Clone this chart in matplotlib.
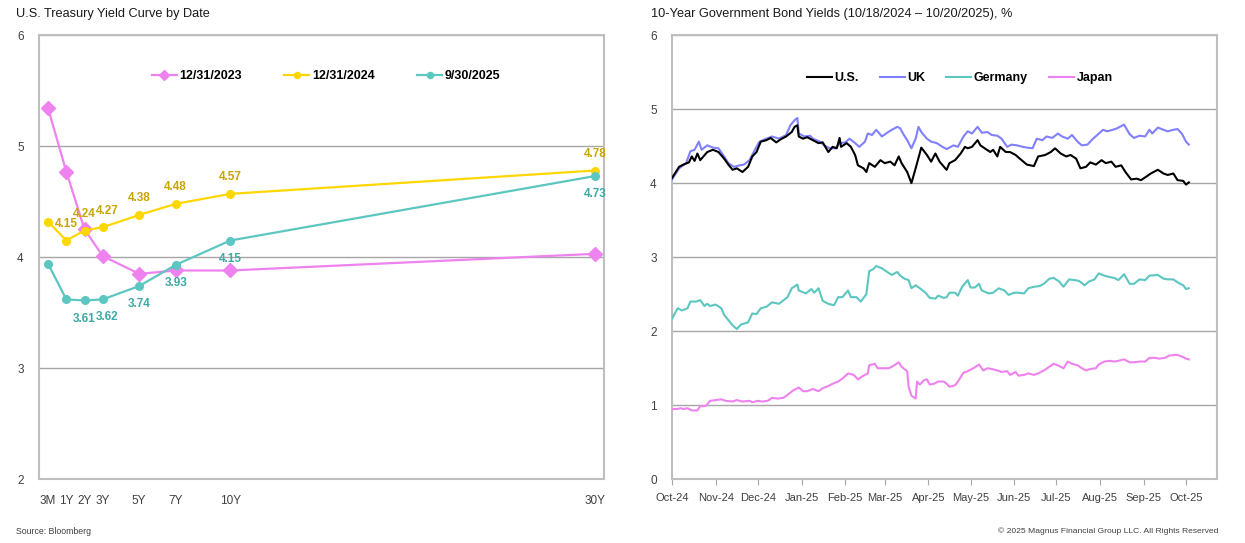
import numpy as np
import pandas as pd
import matplotlib
matplotlib.use('Agg')
import matplotlib.pyplot as plt

plt.rcParams['font.family'] = ['Liberation Sans Narrow', 'Liberation Sans', 'DejaVu Sans']

# ---- left chart: treasury curves
tenors = ['3M', '1Y', '2Y', '3Y', '5Y', '7Y', '10Y', '30Y']
tenor_years = [0, 1, 2, 3, 5, 7, 10, 30]
curve_2023 = [5.34, 4.77, 4.25, 4.01, 3.85, 3.88, 3.88, 4.03]
curve_2024 = [4.32, 4.15, 4.24, 4.27, 4.38, 4.48, 4.57, 4.78]
curve_2025 = [3.94, 3.62, 3.61, 3.62, 3.74, 3.93, 4.15, 4.73]

# ---- right chart: 10y yields, days since 10/18/2024
start = pd.Timestamp('2024-10-18')

us_days = [0, 5, 8, 12, 14, 16, 18, 20, 25, 29, 33, 37, 40, 43, 46, 50, 54, 57, 60, 63, 67, 70, 74, 77, 81, 85, 87, 89, 90, 93, 96, 100, 104, 107, 111, 114, 117, 119, 120, 124, 127, 130, 132, 136, 138, 140, 144, 148, 151, 155, 158, 161, 163, 167, 170, 173, 177, 181, 184, 187, 190, 194,
           195, 197, 201, 205, 208, 210, 213, 217, 219, 222, 226, 228, 231, 233, 237, 240, 244, 247, 252, 257, 260, 265, 269, 272, 276, 280, 283, 287, 290, 294, 297, 301, 305, 308, 312, 315, 319, 322, 326, 330, 333, 337, 340, 345, 349, 352, 356, 359, 363, 365, 367]
us_vals = [4.07, 4.22, 4.25, 4.28, 4.36, 4.30, 4.40, 4.31, 4.42, 4.45, 4.42, 4.33, 4.25, 4.18, 4.20, 4.15, 4.22, 4.36, 4.42, 4.56, 4.58, 4.61, 4.55, 4.59, 4.63, 4.69, 4.76, 4.78, 4.63, 4.60, 4.62, 4.58, 4.54, 4.55, 4.42, 4.49, 4.47, 4.61, 4.49, 4.54, 4.49, 4.38, 4.24, 4.20, 4.15, 4.27, 4.22, 4.31, 4.27, 4.29, 4.24, 4.36, 4.27, 4.15, 4.00, 4.20, 4.48, 4.38, 4.29, 4.40, 4.29, 4.20,
           4.18, 4.27, 4.31, 4.40, 4.49, 4.47, 4.49, 4.58, 4.51, 4.47, 4.42, 4.45, 4.36, 4.49, 4.42, 4.42, 4.38, 4.33, 4.25, 4.23, 4.36, 4.38, 4.42, 4.47, 4.40, 4.36, 4.38, 4.33, 4.20, 4.22, 4.28, 4.25, 4.31, 4.27, 4.29, 4.22, 4.24, 4.15, 4.05, 4.06, 4.04, 4.09, 4.13, 4.18, 4.13, 4.11, 4.13, 4.04, 4.03, 3.98, 4.01]

uk_days = [0, 5, 10, 13, 16, 19, 21, 25, 29, 33, 37, 40, 44, 48, 51, 55, 58, 62, 67, 71, 76, 81, 84, 87, 89, 90, 94, 98, 100, 105, 108, 112, 116, 119, 123, 126, 130, 133, 137, 139, 142, 145, 149, 152, 156, 160, 162, 164, 167, 170, 173, 175, 177, 181, 184, 188, 192,
           195, 200, 203, 207, 210, 213, 217, 220, 224, 227, 231, 234, 238, 241, 245, 249, 252, 256, 259, 263, 266, 270, 274, 277, 281, 284, 288, 291, 295, 299, 302, 306, 309, 313, 316, 321, 325, 328, 332, 336, 339, 341, 345, 349, 352, 356, 359, 362, 365, 367]
uk_vals = [4.05, 4.20, 4.27, 4.43, 4.45, 4.56, 4.45, 4.51, 4.48, 4.47, 4.36, 4.27, 4.22, 4.24, 4.25, 4.31, 4.42, 4.56, 4.60, 4.63, 4.60, 4.65, 4.78, 4.85, 4.88, 4.67, 4.63, 4.64, 4.60, 4.56, 4.51, 4.47, 4.47, 4.54, 4.55, 4.60, 4.54, 4.49, 4.56, 4.67, 4.65, 4.72, 4.63, 4.67, 4.72, 4.76, 4.74, 4.67, 4.58, 4.47, 4.60, 4.76, 4.69, 4.60, 4.56, 4.54, 4.49,
           4.46, 4.51, 4.49, 4.63, 4.70, 4.67, 4.76, 4.68, 4.69, 4.65, 4.64, 4.60, 4.49, 4.52, 4.51, 4.49, 4.48, 4.47, 4.60, 4.58, 4.63, 4.61, 4.67, 4.63, 4.60, 4.65, 4.56, 4.51, 4.52, 4.60, 4.65, 4.72, 4.70, 4.72, 4.74, 4.79, 4.66, 4.61, 4.64, 4.63, 4.72, 4.67, 4.75, 4.72, 4.70, 4.72, 4.73, 4.67, 4.56, 4.52]

de_days = [0, 4, 7, 11, 13, 17, 20, 23, 25, 27, 31, 35, 37, 40, 43, 46, 49, 54, 57, 60, 63, 67, 71, 76, 80, 82, 85, 89, 90, 95, 99, 101, 104, 107, 111, 115, 118, 121, 125, 127, 131, 134, 138, 140, 143, 145, 149, 152, 156, 160, 162, 165, 168, 170, 173, 176, 180, 183, 187, 189, 193,
           195, 197, 201, 203, 206, 210, 212, 215, 218, 220, 225, 228, 232, 236, 239, 243, 246, 250, 253, 257, 261, 264, 268, 271, 275, 278, 282, 286, 289, 293, 296, 300, 303, 307, 311, 314, 317, 321, 325, 328, 332, 336, 339, 345, 349, 352, 356, 359, 363, 365, 367]
de_vals = [2.17, 2.31, 2.28, 2.31, 2.40, 2.40, 2.42, 2.34, 2.37, 2.34, 2.36, 2.31, 2.22, 2.15, 2.08, 2.03, 2.09, 2.12, 2.24, 2.23, 2.31, 2.33, 2.39, 2.37, 2.43, 2.46, 2.58, 2.63, 2.55, 2.51, 2.57, 2.52, 2.58, 2.41, 2.37, 2.35, 2.46, 2.46, 2.55, 2.46, 2.46, 2.40, 2.50, 2.81, 2.84, 2.88, 2.85, 2.81, 2.76, 2.80, 2.75, 2.71, 2.69, 2.58, 2.62, 2.58, 2.52, 2.45, 2.44, 2.48, 2.45,
           2.46, 2.52, 2.52, 2.48, 2.60, 2.69, 2.59, 2.59, 2.64, 2.55, 2.51, 2.52, 2.58, 2.55, 2.49, 2.52, 2.52, 2.51, 2.58, 2.60, 2.61, 2.64, 2.71, 2.72, 2.67, 2.60, 2.70, 2.69, 2.68, 2.62, 2.67, 2.70, 2.78, 2.75, 2.73, 2.72, 2.69, 2.77, 2.64, 2.64, 2.70, 2.69, 2.75, 2.76, 2.71, 2.70, 2.70, 2.66, 2.62, 2.57, 2.58]

jp_days = [0, 4, 6, 8, 11, 14, 18, 20, 24, 27, 31, 35, 38, 43, 46, 50, 55, 57, 61, 64, 68, 71, 75, 79, 82, 86, 90, 93, 96, 100, 104, 107, 111, 114, 118, 121, 125, 129, 132, 136, 139, 140, 144, 146, 150, 154, 157, 161, 163, 167, 168, 170, 173, 174, 176, 179, 181, 183, 186, 189, 193,
           195, 197, 201, 203, 207, 210, 214, 218, 221, 224, 227, 231, 234, 238, 240, 244, 246, 250, 253, 257, 260, 264, 268, 271, 275, 278, 281, 284, 288, 291, 294, 297, 301, 303, 307, 311, 314, 317, 321, 325, 328, 332, 336, 339, 343, 346, 350, 353, 357, 359, 363, 365, 367]
jp_vals = [0.95, 0.95, 0.96, 0.95, 0.96, 0.93, 0.93, 0.99, 0.99, 1.06, 1.07, 1.08, 1.06, 1.05, 1.07, 1.05, 1.06, 1.04, 1.06, 1.05, 1.06, 1.10, 1.09, 1.10, 1.14, 1.20, 1.24, 1.19, 1.19, 1.22, 1.19, 1.23, 1.26, 1.29, 1.32, 1.36, 1.43, 1.41, 1.35, 1.40, 1.43, 1.54, 1.56, 1.50, 1.50, 1.50, 1.53, 1.58, 1.52, 1.46, 1.25, 1.13, 1.09, 1.32, 1.28, 1.34, 1.35, 1.28, 1.29, 1.32, 1.32,
           1.29, 1.25, 1.27, 1.32, 1.44, 1.46, 1.50, 1.55, 1.47, 1.50, 1.49, 1.47, 1.45, 1.46, 1.41, 1.45, 1.40, 1.41, 1.43, 1.41, 1.43, 1.47, 1.52, 1.56, 1.53, 1.50, 1.59, 1.56, 1.54, 1.50, 1.47, 1.49, 1.50, 1.55, 1.59, 1.60, 1.59, 1.60, 1.62, 1.58, 1.58, 1.59, 1.59, 1.64, 1.64, 1.63, 1.64, 1.67, 1.68, 1.68, 1.65, 1.63, 1.62]

month_ticks = pd.date_range(start, periods=13, freq=pd.DateOffset(months=1))

PINK = '#EE82EE'
GOLD = '#FFD700'
GOLD_TXT = '#C9A500'
TEAL = '#5CC6C0'
TEAL_TXT = '#3DAAA5'
UKBLUE = '#8080FF'
GRID = '#A6A6A6'
SPINE = '#BFBFBF'
TXT = '#404040'

fig = plt.figure(figsize=(12.45, 5.43), dpi=100)
ax1 = fig.add_axes([0.0313, 0.1173, 0.4538, 0.8182])
ax2 = fig.add_axes([0.5398, 0.1173, 0.4377, 0.8182])

# ---------------- left
ax1.plot(tenor_years, curve_2023, color=PINK, lw=1.6, marker='D', markersize=7, label='12/31/2023', zorder=3)
ax1.plot(tenor_years, curve_2024, color=GOLD, lw=1.6, marker='o', markersize=5.5, label='12/31/2024', zorder=4)
ax1.plot(tenor_years, curve_2025, color=TEAL, lw=1.6, marker='o', markersize=5.5, label='9/30/2025', zorder=5)

# 3Y labels nudged right a little so they do not sit on the 2Y ones
for i in range(1, len(tenors)):
    dx = 3 if tenors[i] == '3Y' else 0
    ax1.annotate('%.2f' % curve_2024[i], (tenor_years[i], curve_2024[i]), xytext=(dx, 12),
                 textcoords='offset points', ha='center', va='center',
                 color=GOLD_TXT, fontsize=8.5, fontweight='bold', zorder=6)
for i in range(2, len(tenors)):
    dx = 3 if tenors[i] == '3Y' else 0
    ax1.annotate('%.2f' % curve_2025[i], (tenor_years[i], curve_2025[i]), xytext=(dx, -13),
                 textcoords='offset points', ha='center', va='center',
                 color=TEAL_TXT, fontsize=8.5, fontweight='bold', zorder=6)

ax1.set_xlim(-0.5, 30.5)
ax1.set_ylim(2, 6)
ax1.set_yticks([2, 3, 4, 5, 6])
ax1.set_xticks(tenor_years)
ax1.set_xticklabels(tenors)
ax1.tick_params(axis='both', length=0, labelsize=8.5, colors=TXT)
ax1.tick_params(axis='x', pad=11)
ax1.tick_params(axis='y', pad=11)
ax1.legend(loc='center', bbox_to_anchor=(0.508, 0.908), ncol=3, frameon=False,
           prop={'weight': 'bold', 'size': 9}, handlelength=2.0, columnspacing=3.4,
           handletextpad=0.2, markerscale=0.8)

# ---------------- right
ax2.plot(start + pd.to_timedelta(us_days, unit='D'), us_vals, color='black', lw=1.5, label='U.S.', zorder=5)
ax2.plot(start + pd.to_timedelta(uk_days, unit='D'), uk_vals, color=UKBLUE, lw=1.5, label='UK', zorder=4)
ax2.plot(start + pd.to_timedelta(de_days, unit='D'), de_vals, color=TEAL, lw=1.5, label='Germany', zorder=4)
ax2.plot(start + pd.to_timedelta(jp_days, unit='D'), jp_vals, color=PINK, lw=1.5, label='Japan', zorder=4)

ax2.set_xlim(start, month_ticks[-1] + pd.Timedelta(days=22))
ax2.set_ylim(0, 6)
ax2.set_yticks(range(0, 7))
ax2.set_xticks(month_ticks)
ax2.set_xticklabels([d.strftime('%b-%y') for d in month_ticks])
ax2.tick_params(axis='y', length=0, labelsize=8.5, colors=TXT, pad=11)
ax2.tick_params(axis='x', length=4, labelsize=8, colors=TXT, pad=6, color=GRID)
ax2.legend(loc='center', bbox_to_anchor=(0.528, 0.903), ncol=4, frameon=False,
           prop={'weight': 'bold', 'size': 9}, handlelength=2.0, columnspacing=1.7,
           handletextpad=0.2)

for ax in (ax1, ax2):
    ax.grid(axis='y', color=GRID, lw=1)
    ax.set_axisbelow(True)
    for s in ax.spines.values():
        s.set_color(SPINE)
        s.set_linewidth(1.5)

fig.text(0.013, 0.974, 'U.S. Treasury Yield Curve by Date', fontsize=9.2, color='#1a1a1a', va='center')
fig.text(0.523, 0.974, '10-Year Government Bond Yields (10/18/2024 \u2013 10/20/2025), %', fontsize=9.2,
         color='#1a1a1a', va='center')
fig.text(0.013, 0.022, 'Source: Bloomberg', fontsize=6.3, color=TXT, va='center')
fig.text(0.979, 0.022, '\u00a9 2025 Magnus Financial Group LLC. All Rights Reserved', fontsize=6.1,
         color=TXT, va='center', ha='right')

fig.savefig('out.png', dpi=100)
